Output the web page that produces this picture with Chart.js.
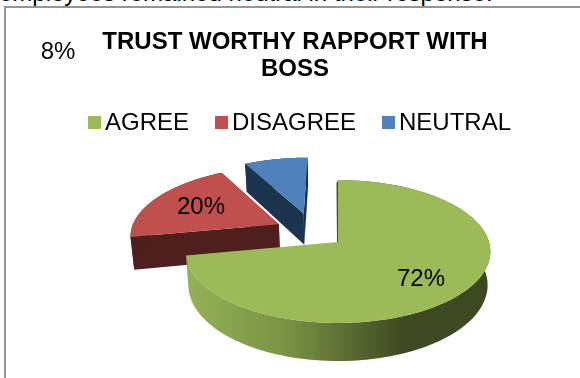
<!DOCTYPE html>
<html>
<head>
<meta charset="utf-8">
<script src="https://cdn.jsdelivr.net/npm/chart.js@4/dist/chart.umd.min.js"></script>
<style>
  html, body { margin: 0; padding: 0; background: #fff; overflow: hidden; width: 580px; height: 378px; }
  body { position: relative; font-family: "Liberation Sans", Arial, sans-serif; }
  #lead { position: absolute; left: -1px; top: -21px; font-size: 24px; color: #000; white-space: nowrap; }
  #box { position: absolute; left: 4px; top: 6px; width: 700px; height: 500px; border: 2px solid #959595; box-sizing: border-box; }
  #wrap { position: absolute; left: 0; top: 0; width: 580px; height: 378px; }
  #legend { position: absolute; top: 108px; left: 0; font-size: 24px; line-height: 28px; color: #000; }
  #legend span { position: absolute; white-space: nowrap; }
  #legend i { position: absolute; top: 8px; width: 13px; height: 13px; }
</style>
</head>
<body>
<div id="lead">employees remained neutral in their response.</div>
<div id="box"></div>
<div id="wrap"><canvas id="chart" width="580" height="378"></canvas></div>
<div id="legend"></div>
<script>
const categories = ["AGREE", "DISAGREE", "NEUTRAL"];
const shares = [72, 20, 8];
const colors = ["#9bbb59", "#c0504d", "#4f81bd"];
const sideColors = ["#7d9648", "#4f1f1e", "#1d344f"];

// slices pulled out of the pie, in pie radii (sideways, away from viewer)
const explode = [[0, 0], [-0.405, 0.26], [-0.24, 0.43]];
// where each percentage sits
const labelSpots = [[421, 279], [201, 207], [58, 52]];
const legendLefts = [88, 215, 382];

// tilted disc with a bit of perspective
const CX = 338, CY = 242, RX = 151, RY = 70.2, PERSP = 0.133, DEPTH = 33;

function project(u, v, down) {
  const s = 1 / (1 + PERSP * v);
  const squeeze = 1 - 0.018 * (down || 0) / DEPTH;
  return [CX + RX * u * s * squeeze, CY - RY * v * s + (down || 0) * s];
}

function slicePoints(arc, off, down) {
  const pts = [project(off[0], off[1], down)];
  const n = 120;
  for (let i = 0; i <= n; i++) {
    const a = arc.startAngle + (arc.endAngle - arc.startAngle) * i / n;
    pts.push(project(off[0] + Math.cos(a), off[1] - Math.sin(a), down));
  }
  return pts;
}

function fillPoly(ctx, pts, fill) {
  ctx.beginPath();
  pts.forEach((p, i) => (i ? ctx.lineTo(p[0], p[1]) : ctx.moveTo(p[0], p[1])));
  ctx.closePath();
  ctx.fillStyle = fill;
  ctx.fill();
}

function drawWalls(ctx, index, top, low) {
  let fill = sideColors[index];
  const last = top.length - 1;
  if (index === 0) {
    fill = ctx.createLinearGradient(190, 0, 491, 0);
    fill.addColorStop(0, "#93b155");
    fill.addColorStop(0.32, "#7a9245");
    fill.addColorStop(0.71, "#3e4a22");
    fill.addColorStop(1, "#3d4923");
    // thin sliver along the straight edge under twelve o'clock
    fillPoly(ctx, [top[0], top[1], [top[1][0] - 1.5, top[1][1] + 3], [top[0][0] - 1, top[0][1]]], "#3e4a22");
  } else {
    fillPoly(ctx, [top[0], top[1], low[1], low[0]], fill);
    fillPoly(ctx, [top[0], top[last], low[last], low[0]], fill);
  }
  fillPoly(ctx, top.slice(1).concat(low.slice(1).reverse()), fill);
}

const tiltedPie = {
  id: "tiltedPie",
  beforeDatasetDraw(chart) {
    const ctx = chart.ctx;
    const arcs = chart.getDatasetMeta(0).data;
    ctx.save();
    // back slices first, the big slice goes over them
    [2, 1, 0].forEach((i) => {
      const props = arcs[i].getProps(["startAngle", "endAngle"], true);
      const top = slicePoints(props, explode[i], 0);
      const low = slicePoints(props, explode[i], DEPTH);
      drawWalls(ctx, i, top, low);
      fillPoly(ctx, top, colors[i]);
    });
    ctx.fillStyle = "#000";
    ctx.font = '24px "Liberation Sans", Arial, sans-serif';
    ctx.textAlign = "center";
    ctx.textBaseline = "middle";
    shares.forEach((v, i) => ctx.fillText(v + "%", labelSpots[i][0], labelSpots[i][1]));
    ctx.restore();
    return false;
  }
};

const chart = new Chart(document.getElementById("chart"), {
  type: "pie",
  data: {
    labels: categories,
    datasets: [{ data: shares, backgroundColor: colors, borderWidth: 0 }]
  },
  options: {
    responsive: false,
    animation: false,
    layout: { padding: { top: 29, left: 10 } },
    plugins: {
      tooltip: { enabled: false },
      legend: { display: false },
      title: {
        display: true,
        text: ["TRUST WORTHY RAPPORT WITH", "BOSS"],
        color: "#000",
        font: { family: '"Liberation Sans", Arial, sans-serif', size: 24, weight: "bold", lineHeight: 1.125 },
        padding: { top: 0, bottom: 20 }
      }
    }
  },
  plugins: [tiltedPie]
});

// legend sits tighter than the built-in one allows, so it is plain html
const legend = document.getElementById("legend");
chart.data.labels.forEach((name, i) => {
  const swatch = document.createElement("i");
  swatch.style.left = legendLefts[i] + "px";
  swatch.style.background = colors[i];
  const text = document.createElement("span");
  text.style.left = legendLefts[i] + 17 + "px";
  text.textContent = name;
  legend.append(swatch, text);
});
</script>
</body>
</html>
